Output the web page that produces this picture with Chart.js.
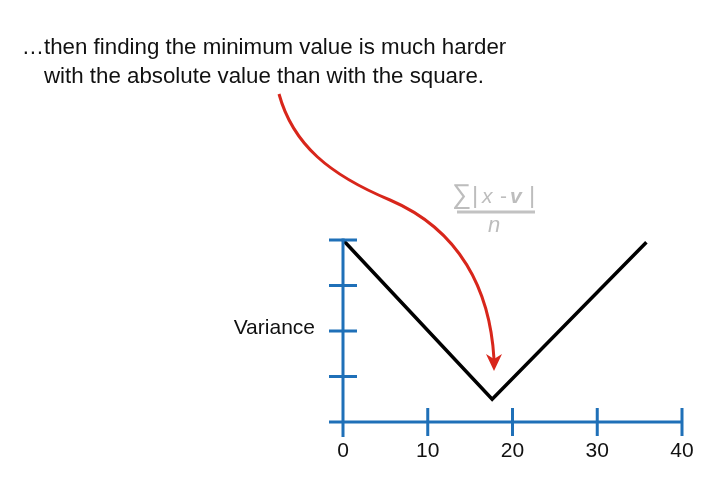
<!DOCTYPE html>
<html>
<head>
<meta charset="utf-8">
<script src="https://cdn.jsdelivr.net/npm/chart.js@4/dist/chart.umd.min.js"></script>
<style>
    html, body { margin: 0; padding: 0; background: #fff; }
    #wrap { width: 701px; height: 478px; position: relative; }
</style>
</head>
<body>
<div id="wrap"><canvas id="varChart"></canvas></div>
<script>
// Data
const xValues = [0, 17.6, 35.8];
const yValues = [4, 0.5, 3.95];
const xTicks = [0, 10, 20, 30, 40];
const yTicks = [0, 1, 2, 3, 4];
const xTickLabels = ['0', '10', '20', '30', '40'];
const yAxisLabel = 'Variance';
const captionLines = [
    '\u2026then finding the minimum value is much harder',
    'with the absolute value than with the square.',
];

const AXIS_BLUE = '#1f70b8';
const FONT = '"Liberation Sans", Arial, sans-serif';

// Axes, ticks and annotation drawn on top of the scales
const axisPlugin = {
    id: 'axisPlugin',
    afterDraw(chart) {
        const { ctx, scales } = chart;
        const xs = scales.x;
        const ys = scales.y;
        const x0 = xs.getPixelForValue(0);
        const y0 = ys.getPixelForValue(0);
        const tick = 14;

        ctx.save();
        ctx.strokeStyle = AXIS_BLUE;
        ctx.lineWidth = 3;
        ctx.lineCap = 'butt';

        // axis lines
        ctx.beginPath();
        ctx.moveTo(x0 - tick, y0);
        ctx.lineTo(xs.getPixelForValue(40), y0);
        ctx.moveTo(x0, y0 + 15);
        ctx.lineTo(x0, ys.getPixelForValue(4) - 1.5);
        ctx.stroke();

        // x ticks
        ctx.beginPath();
        xTicks.slice(1).forEach((v) => {
            const px = xs.getPixelForValue(v);
            ctx.moveTo(px, y0 - tick);
            ctx.lineTo(px, y0 + tick);
        });
        // y ticks
        yTicks.slice(1).forEach((v) => {
            const py = ys.getPixelForValue(v);
            ctx.moveTo(x0 - tick, py);
            ctx.lineTo(x0 + tick, py);
        });
        ctx.stroke();

        // tick labels
        ctx.fillStyle = '#111';
        ctx.font = '21px ' + FONT;
        ctx.textAlign = 'center';
        ctx.textBaseline = 'middle';
        xTicks.forEach((v, i) => {
            ctx.fillText(xTickLabels[i], xs.getPixelForValue(v), y0 + 29);
        });

        // y axis title
        ctx.textAlign = 'right';
        ctx.fillText(yAxisLabel, 315, ys.getPixelForValue(2) - 3);

        // caption
        ctx.font = '22.3px ' + FONT;
        ctx.textAlign = 'center';
        ctx.fillStyle = '#111';
        ctx.fillText(captionLines[0], 264, 48);
        ctx.fillText(captionLines[1], 264, 77);

        // formula
        ctx.fillStyle = '#bdbdbd';
        ctx.strokeStyle = '#c2c2c2';
        ctx.textBaseline = 'alphabetic';
        ctx.textAlign = 'left';
        const fy = 203;
        const parts = [
            ['\u2211', '27px ' + FONT, 452],
            ['|', '24px ' + FONT, 472],
            ['x', 'italic 21px ' + FONT, 482],
            ['-', '21px ' + FONT, 500],
            ['v', 'italic bold 21px ' + FONT, 510],
            ['|', '24px ' + FONT, 529],
        ];
        parts.forEach(([t, f, px]) => {
            ctx.font = f;
            ctx.fillText(t, px, fy);
        });
        ctx.lineWidth = 3;
        ctx.beginPath();
        ctx.moveTo(457, 212);
        ctx.lineTo(535, 212);
        ctx.stroke();
        ctx.font = 'italic 22px ' + FONT;
        ctx.textAlign = 'center';
        ctx.fillText('n', 494, 232);

        // red arrow
        const tipX = 494;
        const tipY = 371;
        ctx.strokeStyle = '#d8261b';
        ctx.fillStyle = '#d8261b';
        ctx.lineWidth = 3;
        ctx.beginPath();
        ctx.moveTo(279, 94);
        ctx.bezierCurveTo(293, 145, 330, 175, 390, 200);
        ctx.bezierCurveTo(460, 230, 490, 290, tipX, tipY - 12);
        ctx.stroke();
        ctx.beginPath();
        ctx.moveTo(tipX, tipY);
        ctx.lineTo(tipX - 8, tipY - 17);
        ctx.lineTo(tipX, tipY - 12);
        ctx.lineTo(tipX + 8, tipY - 17);
        ctx.closePath();
        ctx.fill();

        ctx.restore();
    },
};

const ctx = document.getElementById('varChart');
new Chart(ctx.getContext('2d'), {
    type: 'scatter',
    data: {
        datasets: [
            {
                data: xValues.map((x, i) => ({ x: x, y: yValues[i] })),
                showLine: true,
                borderColor: '#000',
                borderWidth: 3.5,
                pointRadius: 0,
                tension: 0,
                clip: false,
            },
        ],
    },
    options: {
        responsive: true,
        maintainAspectRatio: false,
        animation: false,
        layout: {
            padding: { left: 343, right: 19, top: 240, bottom: 56 },
        },
        plugins: {
            legend: { display: false },
            tooltip: { enabled: false },
        },
        scales: {
            x: { type: 'linear', min: 0, max: 40, display: false },
            y: { type: 'linear', min: 0, max: 4, display: false },
        },
    },
    plugins: [axisPlugin],
});
</script>
</body>
</html>
